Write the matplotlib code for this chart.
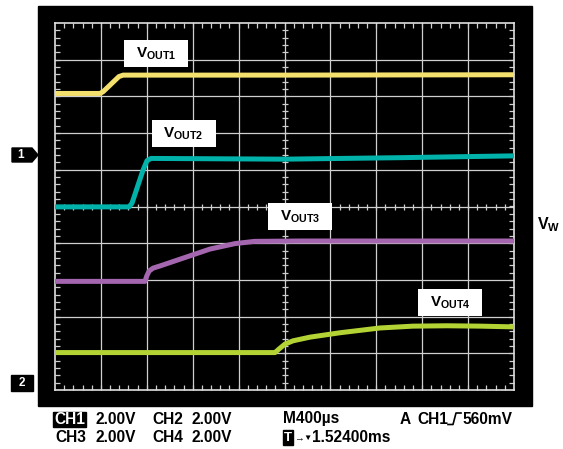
import matplotlib
matplotlib.use('Agg')
import matplotlib.pyplot as plt
from matplotlib.patches import Rectangle, Polygon
import numpy as np

plt.rcParams['font.family'] = ['Liberation Sans', 'DejaVu Sans']
plt.rcParams['font.weight'] = 'bold'
plt.rcParams['mathtext.fontset'] = 'custom'
plt.rcParams['mathtext.rm'] = 'Liberation Sans:bold'
plt.rcParams['mathtext.it'] = 'Liberation Sans:bold'
plt.rcParams['mathtext.bf'] = 'Liberation Sans:bold'

# scope screen: 10 divisions across (400us/div), 10 divisions high
ms_per_div = 0.4
n_div_x = 10
n_div_y = 10

# traces: time (ms) and level (divisions from bottom of screen)
t_out1 = [0, 0.392, 0.42, 0.557, 0.594, 2.0, 4.0]
v_out1 = [8.08, 8.08, 8.13, 8.54, 8.58, 8.58, 8.59]

t_out2 = [0, 0.645, 0.671, 0.767, 0.802, 0.837, 2.0, 3.0, 4.0]
v_out2 = [4.99, 4.99, 5.09, 5.99, 6.25, 6.31, 6.29, 6.33, 6.38]

t_out3 = [0, 0.784, 0.80, 0.82, 0.854, 0.915, 1.35, 1.57, 1.74, 2.14, 4.0]
v_out3 = [2.96, 2.96, 3.11, 3.24, 3.32, 3.38, 3.84, 3.99, 4.05, 4.06, 4.06]

t_out4 = [0, 1.917, 1.961, 2.004, 2.074, 2.222, 2.484, 2.832, 3.12, 3.416, 3.704, 4.0]
v_out4 = [1.02, 1.02, 1.14, 1.25, 1.34, 1.44, 1.56, 1.69, 1.74, 1.75, 1.74, 1.72]

trace_names = ['OUT1', 'OUT2', 'OUT3', 'OUT4']
trace_colors = ['#f4e06c', '#00b2aa', '#a566b0', '#b3d335']
label_t = [0.88, 1.12, 2.136, 3.444]
label_v = [9.16, 6.99, 4.73, 2.38]

row1 = [('2.00V', 95), ('CH2', 152), ('2.00V', 192), ('M400\u00b5s', 283),
        ('A', 400), ('CH1', 417), ('560mV', 462)]
row2 = [('CH3', 55), ('2.00V', 95), ('CH4', 152), ('2.00V', 192),
        ('1.52400ms', 312)]

fig = plt.figure(figsize=(5.63, 4.49), dpi=100, facecolor='white')

# overlay in pixel coords for the decorations around the screen
ov = fig.add_axes([0, 0, 1, 1], zorder=0)
ov.set_xlim(0, 563)
ov.set_ylim(449, 0)
ov.axis('off')
ov.add_patch(Rectangle((38, 6), 494, 400, color='black'))

# channel markers
ov.add_patch(Polygon([(12, 148), (32, 148), (38, 155), (32, 162), (12, 162)], color='black'))
ov.text(21, 155.5, '1', color='white', fontsize=8.5, ha='center', va='center')
ov.add_patch(Rectangle((11, 375), 22, 16, color='black'))
ov.text(22, 383.5, '2', color='white', fontsize=8.5, ha='center', va='center')

ov.text(537, 225, r'$\mathrm{V_W}$', fontsize=11.5, ha='left', va='center')

# readout text
fs = 11.2
ov.add_patch(Rectangle((53, 411.5), 33, 15, color='black'))
ov.text(54, 419, 'CH1', color='white', fontsize=fs, ha='left', va='center')
for s, x in row1:
    ov.text(x, 419, s, fontsize=fs, ha='left', va='center')
for s, x in row2:
    ov.text(x, 438, s, fontsize=fs, ha='left', va='center')
ov.plot([448, 453, 456, 461], [424.5, 424.5, 413, 413], color='black', lw=1.2)
ov.add_patch(Rectangle((283, 430), 10, 15, color='black'))
ov.text(288, 438, 'T', color='white', fontsize=9.5, ha='center', va='center')
ov.text(294, 438, '\u2192', fontsize=7, ha='left', va='center')
ov.text(303, 438.5, '\u25bc', fontsize=6, ha='left', va='center')

# scope graticule
ax = fig.add_axes([55 / 563, (449 - 390) / 449, 459 / 563, 367 / 449], zorder=1)
ax.set_facecolor('black')
xmax = n_div_x * ms_per_div
ax.set_xlim(0, xmax)
ax.set_ylim(0, n_div_y)
gc = '#cfcfcf'
for i in range(1, n_div_x):
    ax.axvline(i * ms_per_div, color=gc, lw=0.9, zorder=1)
for i in range(1, n_div_y):
    ax.axhline(i, color=gc, lw=0.9, zorder=1)
for sp in ax.spines.values():
    sp.set_color('#e0e0e0')
    sp.set_linewidth(1.2)
ax.set_xticks([])
ax.set_yticks([])
ax.set_xticks(np.arange(0.08, xmax, 0.08), minor=True)
ax.set_yticks(np.arange(0.2, n_div_y, 0.2), minor=True)
ax.tick_params(which='minor', direction='in', length=3.5, width=0.9, color=gc,
               top=True, right=True, bottom=True, left=True,
               labelbottom=False, labelleft=False)
# tick marks on the centre lines
cx = xmax / 2
cy = n_div_y / 2
xs = np.arange(0.08, xmax, 0.08)
ys = np.arange(0.2, n_div_y, 0.2)
ax.plot(xs, np.full(len(xs), cy), linestyle='none', marker='|', ms=4.5, mew=0.9, color=gc, zorder=1)
ax.plot(np.full(len(ys), cx), ys, linestyle='none', marker='_', ms=4.5, mew=0.9, color=gc, zorder=1)

traces = [(t_out1, v_out1), (t_out2, v_out2), (t_out3, v_out3), (t_out4, v_out4)]
for (t, v), c in zip(traces, trace_colors):
    ax.plot(t, v, color=c, lw=3.6, solid_joinstyle='round', solid_capstyle='butt', zorder=3)

box_w = 1.394 * ms_per_div
box_h = 0.736
for name, lt, lv in zip(trace_names, label_t, label_v):
    ax.add_patch(Rectangle((lt - box_w / 2, lv - box_h / 2), box_w, box_h,
                           facecolor='white', edgecolor='none', zorder=4))
    ax.text(lt, lv, r'$\mathrm{V_{%s}}$' % name, fontsize=11,
            ha='center', va='center', zorder=5)

fig.savefig('out.png', dpi=100)
